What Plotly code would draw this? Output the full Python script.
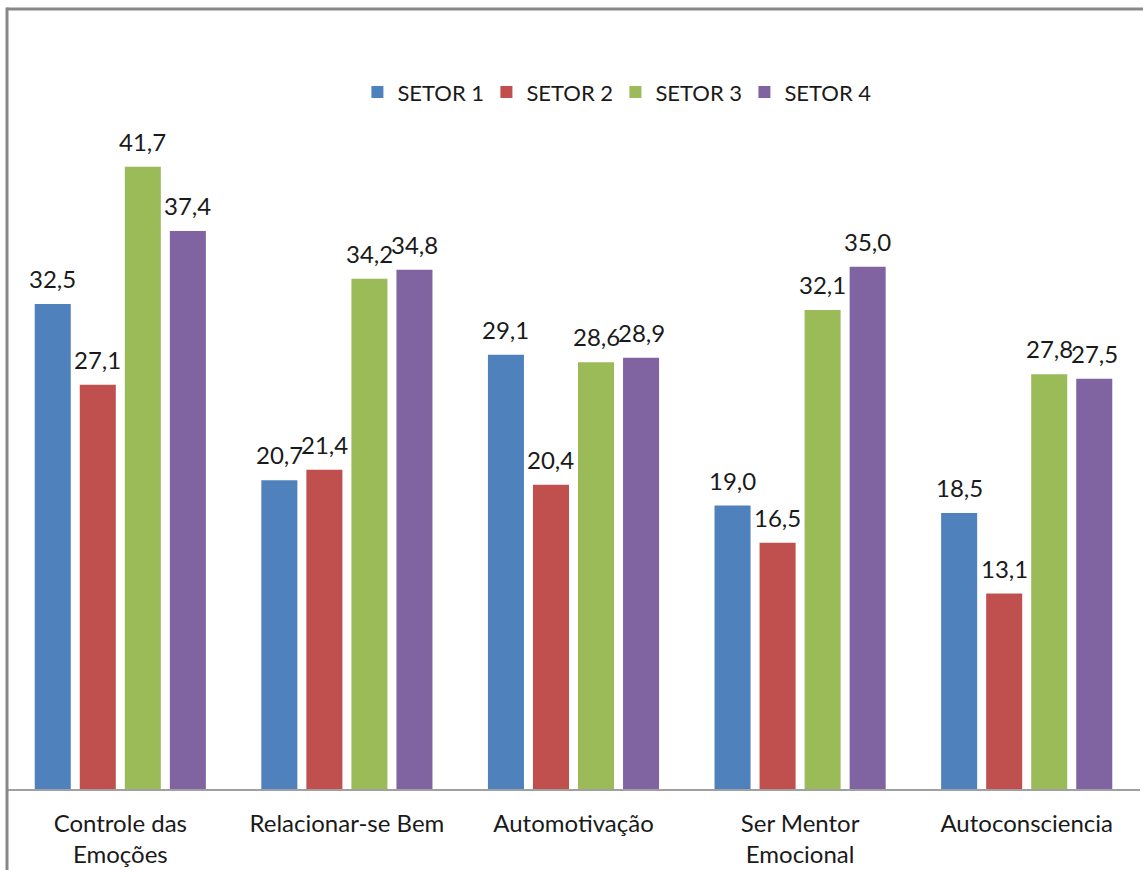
import plotly.graph_objects as go

categories = ["Controle das<br>Emoções", "Relacionar-se Bem", "Automotivação",
              "Ser Mentor<br>Emocional", "Autoconsciencia"]
series_names = ["SETOR 1", "SETOR 2", "SETOR 3", "SETOR 4"]
setor1 = [32.5, 20.7, 29.1, 19.0, 18.5]
setor2 = [27.1, 21.4, 20.4, 16.5, 13.1]
setor3 = [41.7, 34.2, 28.6, 32.1, 27.8]
setor4 = [37.4, 34.8, 28.9, 35.0, 27.5]
colors = ["#4F81BD", "#C0504D", "#9BBB59", "#8064A2"]

FONT = "Lato"
FS = 24
BARGAP = 0.205
GROUPGAP = 0.2

fig = go.Figure()
all_series = [setor1, setor2, setor3, setor4]
for name, vals, col in zip(series_names, all_series, colors):
    fig.add_trace(go.Bar(
        x=list(range(len(categories))), y=vals, name=name,
        marker=dict(color=col, line=dict(width=0)),
    ))

# data labels placed above each bar, centred on the bar's slot
nser = len(all_series)
slot = (1 - BARGAP) / nser
for j, vals in enumerate(all_series):
    for i, v in enumerate(vals):
        fig.add_annotation(
            x=i + (j - (nser - 1) / 2) * slot, y=v, xref="x", yref="y",
            text=f"{v:.1f}".replace(".", ","), showarrow=False,
            yanchor="bottom", yshift=9,
            font=dict(family=FONT, size=FS, color="#1a1a1a"),
        )

fig.update_layout(
    width=1143, height=870,
    margin=dict(l=7, r=3, t=43, b=81),
    paper_bgcolor="white", plot_bgcolor="white",
    barmode="group", bargap=BARGAP, bargroupgap=GROUPGAP,
    font=dict(family=FONT, size=FS, color="#1a1a1a"),
    showlegend=True,
    legend=dict(orientation="h", x=0.537, xanchor="center", y=0.934, yanchor="middle",
                font=dict(family=FONT, size=22, color="#1a1a1a"),
                itemwidth=30, tracegroupgap=0, entrywidth=84),
    xaxis=dict(showline=True, linecolor="#a0a0a0", linewidth=2, ticks="",
               showgrid=False, ticklabelstandoff=12,
               tickmode="array", tickvals=list(range(len(categories))), ticktext=categories,
               range=[-0.5, len(categories) - 0.5],
               tickfont=dict(family=FONT, size=FS, color="#1a1a1a")),
    yaxis=dict(range=[0, 50], visible=False, showgrid=False, zeroline=False),
)

fig.add_shape(type="line", xref="paper", yref="paper", x0=0, x1=1.01, y0=1.0456, y1=1.0456,
              line=dict(color="#888888", width=3))
fig.add_shape(type="line", xref="paper", yref="paper", x0=0, x1=0, y0=1.0476, y1=-0.11,
              line=dict(color="#888888", width=3))

fig.write_html("out.html")
